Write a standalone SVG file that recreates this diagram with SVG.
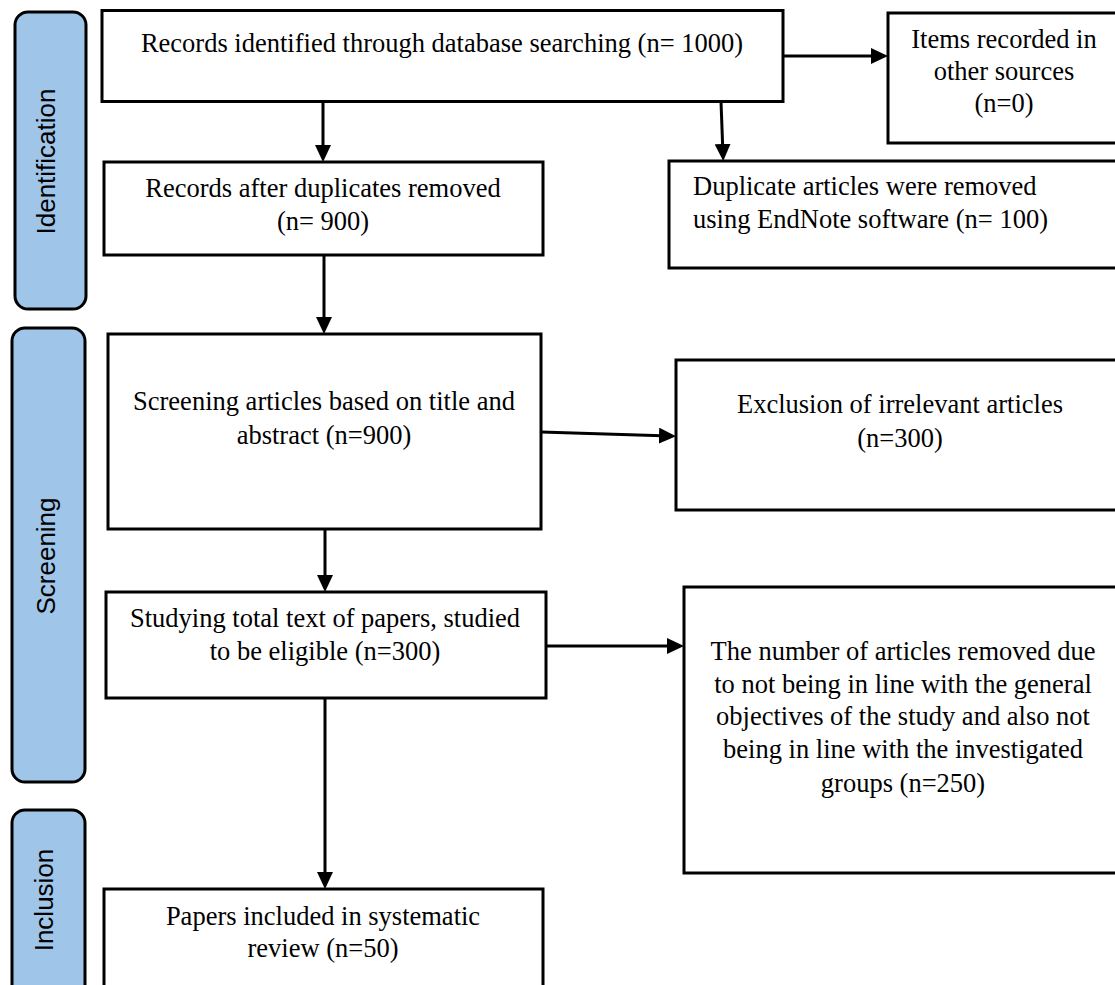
<svg xmlns="http://www.w3.org/2000/svg" width="1115" height="985" viewBox="0 0 1115 985">
<style>
.box{fill:#fff;stroke:#000;stroke-width:3}
.lane{fill:#9fc5e8;stroke:#000;stroke-width:3}
.t{font-family:"Liberation Serif","Times New Roman",serif;font-size:26.5px;fill:#000}
.c{text-anchor:middle}
.lt{font-family:"Liberation Sans",Arial,sans-serif;font-size:26px;fill:#000;text-anchor:middle}
.con{stroke:#000;stroke-width:3;fill:none;marker-end:url(#ah)}
</style>
<defs>
<marker id="ah" viewBox="0 0 17 16" markerWidth="17" markerHeight="16" refX="11" refY="8" orient="auto" markerUnits="userSpaceOnUse">
<path d="M0,0 L17,8 L0,16 z" fill="#000"/>
</marker>
</defs>
<rect width="1115" height="985" fill="#fff"/>
<g id="lane-identification">
<rect class="lane" x="15" y="12" width="71" height="297" rx="13"/>
<text class="lt" transform="translate(55,161.5) rotate(-90)">Identification</text>
</g>
<g id="lane-screening">
<rect class="lane" x="12" y="328" width="73" height="454" rx="13"/>
<text class="lt" transform="translate(55,556) rotate(-90)">Screening</text>
</g>
<g id="lane-inclusion">
<rect class="lane" x="12" y="810" width="73" height="200" rx="13"/>
<text class="lt" transform="translate(53,900) rotate(-90)">Inclusion</text>
</g>
<g id="n-records">
<rect class="box" x="102" y="10.5" width="681" height="91"/>
<text class="t c" x="442" y="52">Records identified through database searching (n= 1000)</text>
</g>
<g id="n-other">
<rect class="box" x="888" y="13" width="240" height="130"/>
<text class="t c" x="1004" y="48">Items recorded in</text>
<text class="t c" x="1004" y="80">other sources</text>
<text class="t c" x="1004" y="112">(n=0)</text>
</g>
<g id="n-after-dup">
<rect class="box" x="104" y="162" width="439" height="93"/>
<text class="t c" x="323" y="197">Records after duplicates removed</text>
<text class="t c" x="323" y="230">(n= 900)</text>
</g>
<g id="n-dup">
<rect class="box" x="669" y="161" width="460" height="107"/>
<text class="t" x="693" y="195">Duplicate articles were removed</text>
<text class="t" x="693" y="228">using EndNote software (n= 100)</text>
</g>
<g id="n-screening">
<rect class="box" x="108" y="334" width="433" height="195"/>
<text class="t c" x="324" y="410">Screening articles based on title and</text>
<text class="t c" x="324" y="444">abstract (n=900)</text>
</g>
<g id="n-exclusion">
<rect class="box" x="676" y="360" width="450" height="150"/>
<text class="t c" x="900" y="413">Exclusion of irrelevant articles</text>
<text class="t c" x="900" y="447">(n=300)</text>
</g>
<g id="n-fulltext">
<rect class="box" x="106" y="592" width="440" height="106"/>
<text class="t c" x="325" y="627">Studying total text of papers, studied</text>
<text class="t c" x="325" y="660">to be eligible (n=300)</text>
</g>
<g id="n-removed">
<rect class="box" x="684" y="587" width="440" height="286"/>
<text class="t c" x="903" y="660">The number of articles removed due</text>
<text class="t c" x="903" y="693">to not being in line with the general</text>
<text class="t c" x="903" y="725">objectives of the study and also not</text>
<text class="t c" x="903" y="758">being in line with the investigated</text>
<text class="t c" x="903" y="792">groups (n=250)</text>
</g>
<g id="n-included">
<rect class="box" x="104" y="889" width="439" height="110"/>
<text class="t c" x="323" y="925">Papers included in systematic</text>
<text class="t c" x="323" y="957">review (n=50)</text>
</g>
<g id="connectors">
<line class="con" x1="323" y1="101.5" x2="323" y2="156"/>
<line class="con" x1="783" y1="56" x2="882" y2="56"/>
<line class="con" x1="721" y1="101.5" x2="723" y2="155"/>
<line class="con" x1="324" y1="255" x2="324" y2="328"/>
<line class="con" x1="541" y1="432" x2="670" y2="436"/>
<line class="con" x1="325" y1="529" x2="325" y2="586"/>
<line class="con" x1="546" y1="646" x2="678" y2="646"/>
<line class="con" x1="325" y1="698" x2="325" y2="883"/>
</g>
</svg>
